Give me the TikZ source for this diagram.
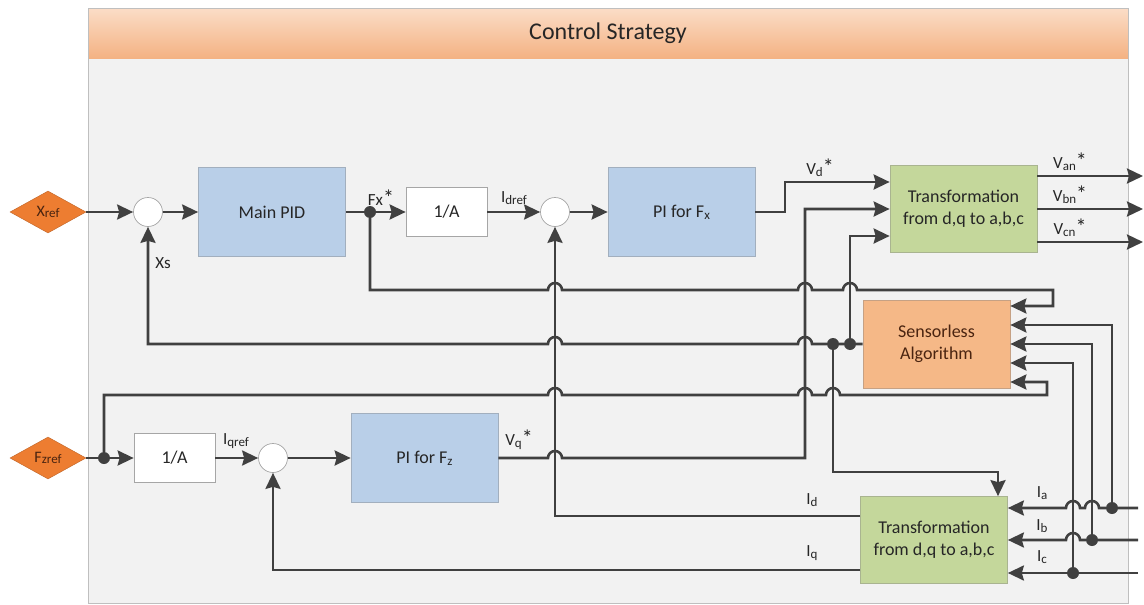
\documentclass[tikz,border=0pt]{standalone}
\usepackage{fontspec}
\setmainfont{Carlito}
\usetikzlibrary{shapes.geometric,arrows.meta}

\definecolor{linha}{HTML}{404040}
\definecolor{fundo}{HTML}{F2F2F2}
\definecolor{moldura}{HTML}{BFBFBF}
\definecolor{azulbloco}{HTML}{B9CFE8}
\definecolor{verdebloco}{HTML}{C4D79B}
\definecolor{laranjabloco}{HTML}{F5B887}
\definecolor{laranjaforte}{HTML}{ED7D31}
\definecolor{marrom}{HTML}{4A2410}

\newcommand\subs[1]{\raisebox{-0.2ex}{\fontsize{13}{15}\selectfont #1}}
\newcommand\estrela{{\fontsize{22}{22}\selectfont *}}
% saltos nos cruzamentos
\newcommand\hop[2]{-- (#1-7,#2) arc[start angle=180,end angle=0,radius=7pt]}
\newcommand\hopl[2]{-- (#1+7,#2) arc[start angle=0,end angle=180,radius=7pt]}

\begin{document}
\begin{tikzpicture}[x=1pt, y=-1pt,
    seta/.style={draw=linha, line width=2.6pt, -{Stealth[length=16pt,width=15pt,inset=2pt]}},
    fio/.style={draw=linha, line width=2.6pt},
    bloco/.style={rectangle, draw=gray!70, line width=0.7pt, align=center, text=black!85, font=\fontsize{18}{22}\selectfont},
    pid/.style={bloco, fill=azulbloco, draw=azulbloco!60!gray, minimum width=147pt, minimum height=89pt},
    ganho/.style={bloco, fill=white, minimum width=81pt, minimum height=49pt},
    trans/.style={bloco, fill=verdebloco, draw=verdebloco!60!gray, minimum width=147pt, minimum height=87pt},
    sens/.style={bloco, fill=laranjabloco, draw=laranjabloco!60!gray, text=marrom, minimum width=147pt, minimum height=88pt},
    soma/.style={circle, draw=gray!70, fill=white, line width=0.7pt, minimum size=29pt, inner sep=0pt},
    ponto/.style={circle, fill=linha, minimum size=12pt, inner sep=0pt},
    entrada/.style={diamond, aspect=1.8, fill=laranjaforte, draw=laranjaforte!80!black, minimum width=76pt, minimum height=42pt, inner sep=0pt, text=marrom, font=\fontsize{16}{18}\selectfont},
    rot/.style={inner sep=0pt, text=black!85, font=\fontsize{17}{20}\selectfont}]
    \useasboundingbox (0,0) rectangle (1144,605);

    % Moldura
    \fill[fundo] (88,58) rectangle (1128,603);
    \shade[top color={rgb,255:red,251;green,221;blue,199}, bottom color={rgb,255:red,244;green,178;blue,131}] (88,8) rectangle (1128,58);
    \draw[moldura] (88,8) rectangle (1128,603);
    \node[text=black!85, font=\fontsize{24}{28}\selectfont] (titulo) at (608,33) {Control Strategy};

    % Blocos
    \node[entrada] (xref) at (48,212) {X\subs{ref}};
    \node[soma] (s1) at (148,212) {};
    \node[pid] (mpid) at (272,212) {Main PID};
    \node[ponto] (jfx) at (370,212) {};
    \node[ganho] (ga1) at (446.5,212) {1/A};
    \node[soma] (s2) at (555,212) {};
    \node[pid] (pifx) at (681.5,212) {PI for F\subs{x}};
    \node[trans] (tv) at (963.5,209) {Transformation\\from d,q to a,b,c};
    \node[sens] (sa) at (936.5,344) {Sensorless\\Algorithm};
    \node[ponto] (jt1) at (850,344) {};
    \node[ponto] (jt2) at (833,344) {};
    \node[entrada] (fzref) at (48,458) {F\subs{zref}};
    \node[ponto] (jfz) at (104,458) {};
    \node[ganho] (ga2) at (174.5,458) {1/A};
    \node[soma] (s3) at (273,458) {};
    \node[pid] (pifz) at (424.5,458) {PI for F\subs{z}};
    \node[trans] (ti) at (934,540) {Transformation\\from d,q to a,b,c};
    \node[ponto] (ja) at (1112,508) {};
    \node[ponto] (jb) at (1092,540) {};
    \node[ponto] (jc) at (1073,573) {};
    \coordinate (van) at (1143,176);
    \coordinate (vbn) at (1143,209);
    \coordinate (vcn) at (1143,242);
    \coordinate (ia) at (1138,508);
    \coordinate (ib) at (1138,540);
    \coordinate (ic) at (1138,573);

    % Rótulos
    \node[rot] (lfx) at (381,198) {Fx\estrela};
    \node[rot] (lidref) at (514,198) {I\subs{dref}};
    \node[rot] (lxs) at (163,263) {Xs};
    \node[rot] (lvd) at (820,168) {V\subs{d}\estrela};
    \node[rot] (lvan) at (1070,162) {V\subs{an}\estrela};
    \node[rot] (lvbn) at (1070,195) {V\subs{bn}\estrela};
    \node[rot] (lvcn) at (1070,228) {V\subs{cn}\estrela};
    \node[rot] (liqref) at (236,441) {I\subs{qref}};
    \node[rot] (lvq) at (519,440) {V\subs{q}\estrela};
    \node[rot] (lid) at (812,500) {I\subs{d}};
    \node[rot] (liq) at (812,553) {I\subs{q}};
    \node[rot] (lia) at (1042,493) {I\subs{a}};
    \node[rot] (lib) at (1042,526) {I\subs{b}};
    \node[rot] (lic) at (1042,557) {I\subs{c}};

    % Malha de posição
    \draw[seta] (xref) -- (s1);
    \draw[seta] (s1) -- (mpid);
    \draw[fio] (mpid) -- (jfx);
    \draw[seta] (jfx) -- (ga1);
    \draw[seta] (ga1) -- (s2);
    \draw[seta] (s2) -- (pifx);
    \draw[seta] (pifx.east) -- (785,212) |- ([yshift=27pt]tv.west);
    \draw[seta] (jfx) -- (370,290) \hop{555}{290} \hop{805}{290} \hop{850}{290} -- (1053,290) |- ([yshift=38pt]sa.east);
    \draw[seta] (sa.west) -- (jt1) -- (jt2) \hopl{805}{344} \hopl{555}{344} -- (148,344) -- (s1.south);
    \draw[seta] (jt1) |- ([yshift=-27pt]tv.west);
    \draw[seta] (jt2) -- (833,472) -| ([xshift=64pt]ti.north);

    % Saídas
    \draw[seta] ([yshift=33pt]tv.east) -- (van);
    \draw[seta] (tv.east) -- (vbn);
    \draw[seta] ([yshift=-33pt]tv.east) -- (vcn);

    % Malha em z
    \draw[fio] (fzref) -- (jfz);
    \draw[seta] (jfz) -- (ga2);
    \draw[seta] (ga2) -- (s3);
    \draw[seta] (s3) -- (pifz);
    \draw[seta] (pifz.east) \hop{555}{458} -- (805,458) |- (tv.west);
    \draw[seta] (jfz) -- (104,395) \hop{555}{395} \hop{805}{395} \hop{833}{395} -- (1047,395) |- ([yshift=-38pt]sa.east);

    % Correntes
    \draw[seta] ([yshift=24pt]ti.west) -- (555,516) -- (s2.south);
    \draw[seta] ([yshift=-30pt]ti.west) -- (273,570) -- (s3.south);
    \draw[seta] (ia) -- (ja) \hopl{1092}{508} \hopl{1073}{508} -- ([yshift=32pt]ti.east);
    \draw[seta] (ib) -- (jb) \hopl{1073}{540} -- (ti.east);
    \draw[seta] (ic) -- (jc) -- ([yshift=-33pt]ti.east);
    \draw[seta] (ja) |- ([yshift=19pt]sa.east);
    \draw[seta] (jb) |- (sa.east);
    \draw[seta] (jc) |- ([yshift=-19pt]sa.east);
\end{tikzpicture}
\end{document}
